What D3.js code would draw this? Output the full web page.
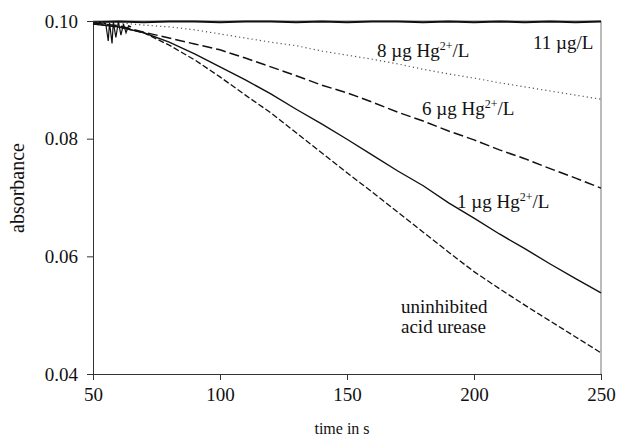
<!DOCTYPE html>
<html>
<head>
<meta charset="utf-8">
<script src="https://cdn.jsdelivr.net/npm/d3@7"></script>
<style>
  body { margin: 0; background: #fff; }
  text { font-family: "Liberation Serif", "Times New Roman", serif; fill: #111; }
</style>
</head>
<body>
<div id="chart"></div>
<script>
// time axis (s), shared by the traces
const times = [50, 60, 70, 80, 90, 100, 110, 120, 130, 140, 150, 160, 170, 180, 190, 200, 210, 220, 230, 240, 250];

// absorbance traces
const hg11 = [0.0998, 0.0999, 0.0998, 0.0999, 0.0999, 0.0998, 0.0999, 0.0999, 0.0998, 0.0999, 0.0998, 0.0999, 0.0999, 0.0998, 0.0999, 0.0998, 0.0999, 0.0998, 0.0999, 0.0998, 0.0999];
const hg8 = [0.0998, 0.0997, 0.0993, 0.0990, 0.0985, 0.0978, 0.0971, 0.0964, 0.0958, 0.0949, 0.0942, 0.0935, 0.0927, 0.0918, 0.0910, 0.0903, 0.0895, 0.0888, 0.0881, 0.0874, 0.0867];
const hg6 = [0.0997, 0.0992, 0.0981, 0.0971, 0.0961, 0.0951, 0.0937, 0.0922, 0.0907, 0.0891, 0.0878, 0.0862, 0.0845, 0.0830, 0.0813, 0.0798, 0.0781, 0.0766, 0.0749, 0.0733, 0.0716];
const hg1 = [0.0995, 0.0990, 0.0980, 0.0964, 0.0944, 0.0922, 0.0900, 0.0876, 0.0850, 0.0825, 0.0799, 0.0772, 0.0745, 0.0720, 0.0691, 0.0665, 0.0638, 0.0613, 0.0587, 0.0562, 0.0538];
const uninhibited = [0.0995, 0.0990, 0.0980, 0.0959, 0.0934, 0.0905, 0.0874, 0.0844, 0.0810, 0.0776, 0.0742, 0.0709, 0.0675, 0.0641, 0.0607, 0.0574, 0.0545, 0.0517, 0.0490, 0.0463, 0.0436];

// noisy start of the recordings (mixing spikes)
const spikeTimes = [54, 55, 56, 56.5, 57.5, 58, 59, 60, 61, 62, 63, 64, 65];
const spikeValues = [0.0995, 0.0996, 0.0966, 0.0997, 0.0962, 0.0998, 0.0972, 0.0999, 0.0976, 0.0995, 0.0980, 0.0992, 0.0990];

const xTicks = [50, 100, 150, 200, 250];
const yTicks = [0.04, 0.06, 0.08, 0.10];

const W = 618, H = 440;
const svg = d3.select("#chart").append("svg")
  .attr("width", W).attr("height", H);

const x = d3.scaleLinear().domain([50, 250]).range([93, 601]);
const y = d3.scaleLinear().domain([0.04, 0.10]).range([374, 21]);

// frame (top and right, light)
svg.append("path")
  .attr("d", `M${x(50)},${y(0.10)}H${x(250)}V${y(0.04)}`)
  .attr("fill", "none").attr("stroke", "#777").attr("stroke-width", 1);

// axes
const xAxis = svg.append("g")
  .attr("transform", `translate(0,${y(0.04)})`)
  .call(d3.axisBottom(x).tickValues(xTicks).tickSize(6).tickSizeOuter(0).tickPadding(8));
const yAxis = svg.append("g")
  .attr("transform", `translate(${x(50)},0)`)
  .call(d3.axisLeft(y).tickValues(yTicks).tickSize(6).tickSizeOuter(0).tickPadding(9)
    .tickFormat(d3.format(".2f")));
[xAxis, yAxis].forEach(g => {
  g.attr("font-family", "'Liberation Serif', serif").attr("font-size", 19);
  g.select(".domain").attr("stroke", "#333");
  g.selectAll(".tick line").attr("stroke", "#333");
  g.selectAll(".tick text").attr("fill", "#111");
});

const line = d3.line()
  .x(d => x(d[0]))
  .y(d => y(d[1]));

function trace(vals, ts, opts) {
  svg.append("path")
    .datum(ts.map((t, i) => [t, vals[i]]))
    .attr("fill", "none")
    .attr("stroke", opts.color || "#111")
    .attr("stroke-width", opts.width || 1.3)
    .attr("stroke-dasharray", opts.dash || null)
    .attr("d", line);
}

trace(hg11, times, { width: 2 });
trace(hg8, times, { width: 1.2, dash: "1.2 3", color: "#555" });
trace(hg6, times, { width: 1.5, dash: "10 4" });
trace(hg1, times, { width: 1.4 });
trace(uninhibited, times, { width: 1.3, dash: "6 2.5" });
trace(spikeValues, spikeTimes, { width: 1.2 });

// curve annotations
function hgLabel(num, px, py) {
  const t = svg.append("text").attr("x", px).attr("y", py).style("font-size", "19px");
  t.append("tspan").text(num + " \u00b5g Hg");
  t.append("tspan").attr("dy", -7).style("font-size", "12px").text("2+");
  t.append("tspan").attr("dy", 7).text("/L");
}
hgLabel("8", 377, 57);
hgLabel("6", 422, 115);
hgLabel("1", 457, 208);

svg.append("text").attr("x", 533).attr("y", 49).style("font-size", "19px").text("11 \u00b5g/L");
svg.append("text").attr("x", 401).attr("y", 313).style("font-size", "19px").text("uninhibited");
svg.append("text").attr("x", 401).attr("y", 333).style("font-size", "19px").text("acid urease");

// axis titles
svg.append("text")
  .attr("x", 342).attr("y", 434)
  .attr("text-anchor", "middle")
  .style("font-size", "16px")
  .text("time in s");

svg.append("text")
  .attr("transform", "translate(24,188) rotate(-90)")
  .attr("text-anchor", "middle")
  .style("font-size", "20px")
  .text("absorbance");
</script>
</body>
</html>
